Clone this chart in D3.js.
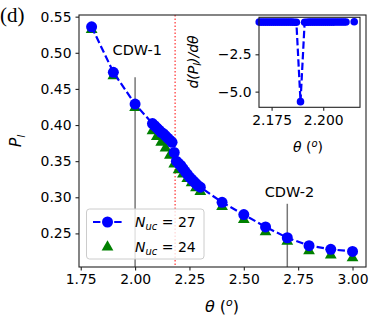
<!DOCTYPE html>
<html>
<head>
<meta charset="utf-8">
<script src="https://cdn.jsdelivr.net/npm/d3@7"></script>
<style>
  body { margin: 0; background: #fff; }
  text { font-family: "DejaVu Sans", sans-serif; fill: #000; }
</style>
</head>
<body>
<svg id="chart" width="381" height="328"></svg>
<script>
// main panel: N_uc = 27 (circles, dashed line)
const theta27 = [1.8, 1.9, 2.0, 2.08, 2.09, 2.10, 2.11, 2.12, 2.13, 2.14, 2.15, 2.16, 2.17, 2.18,
  2.19, 2.20, 2.21, 2.22, 2.23, 2.24, 2.25, 2.26, 2.27, 2.28, 2.29, 2.30,
  2.4, 2.5, 2.6, 2.7, 2.8, 2.9, 3.0];
const pl27 = [0.536, 0.473, 0.429, 0.402, 0.399, 0.396, 0.393, 0.390, 0.388, 0.385, 0.382, 0.379, 0.376, 0.362,
  0.350, 0.347, 0.344, 0.340, 0.336, 0.332, 0.328, 0.325, 0.322, 0.319, 0.316, 0.314,
  0.293, 0.276, 0.259, 0.244, 0.233, 0.228, 0.225];

// N_uc = 24 (triangles)
const theta24 = [1.8, 1.9, 2.0, 2.08, 2.10, 2.12, 2.14, 2.16, 2.18, 2.20, 2.22, 2.24, 2.26, 2.28, 2.30,
  2.4, 2.5, 2.6, 2.7, 2.8, 2.9, 3.0];
const pl24 = [0.532, 0.468, 0.424, 0.392, 0.384, 0.376, 0.368, 0.358, 0.346, 0.338, 0.332, 0.326, 0.320, 0.313, 0.308,
  0.287, 0.269, 0.252, 0.239, 0.226, 0.220, 0.216];

// inset: derivative d<P_l>/dtheta
const thetaD = [2.169, 2.170, 2.171, 2.172, 2.173, 2.174, 2.175, 2.176, 2.177, 2.178, 2.179,
  2.180, 2.181, 2.182, 2.183, 2.184, 2.185, 2.186, 2.187,
  2.189,
  2.191, 2.192, 2.193, 2.194, 2.195, 2.196, 2.197, 2.198, 2.199, 2.200, 2.201,
  2.202, 2.203, 2.204, 2.205, 2.206, 2.207, 2.208, 2.209, 2.210, 2.211,
  2.215];
const dpl = [-0.34, -0.34, -0.34, -0.34, -0.34, -0.34, -0.34, -0.34, -0.34, -0.34, -0.34,
  -0.34, -0.34, -0.34, -0.34, -0.34, -0.34, -0.35, -0.35,
  -5.67,
  -0.35, -0.35, -0.34, -0.34, -0.34, -0.34, -0.34, -0.34, -0.34, -0.34, -0.34,
  -0.34, -0.34, -0.34, -0.34, -0.33, -0.33, -0.33, -0.33, -0.33, -0.33,
  -0.32];

const xTicks = [1.75, 2.0, 2.25, 2.5, 2.75, 3.0];
const yTicks = [0.25, 0.30, 0.35, 0.40, 0.45, 0.50, 0.55];
const insetXTicks = [2.175, 2.2];
const insetYTicks = [-2.5, -5.0];
const cdwLines = [{ x: 2.0, top: 0.466, label: "CDW-1", lx: 2.01, ly: 0.502 }, { x: 2.7, top: 0.291, label: "CDW-2", lx: 2.71, ly: 0.306 }];
const transitionTheta = 2.184;

const svg = d3.select("#chart");
const fmt2 = d => d3.format(".2f")(d);
const minus = s => s.replace("-", "\u2212");

// main axes
const x = d3.scaleLinear().domain([1.742, 3.062]).range([79, 366]);
const y = d3.scaleLinear().domain([0.2035, 0.5523]).range([267, 15]);

const main = svg.append("g");

// red dotted transition line
main.append("line")
  .attr("x1", x(transitionTheta)).attr("x2", x(transitionTheta))
  .attr("y1", y.range()[1]).attr("y2", y.range()[0])
  .attr("stroke", "#ff3030").attr("stroke-width", 1.2)
  .attr("stroke-dasharray", "1.5,2");

// CDW lines + labels
cdwLines.forEach(c => {
  main.append("line")
    .attr("x1", x(c.x)).attr("x2", x(c.x))
    .attr("y1", y(c.top)).attr("y2", y.range()[0])
    .attr("stroke", "#777").attr("stroke-width", 1.5);
  main.append("text")
    .attr("x", x(c.lx)).attr("y", y(c.ly))
    .attr("text-anchor", "middle").attr("dominant-baseline", "middle")
    .style("font-size", "14.5px")
    .text(c.label);
});

// triangles
const tri = d3.symbol().type(d3.symbolTriangle).size(60);
main.selectAll(".tri").data(theta24).enter().append("path")
  .attr("d", tri)
  .attr("transform", (d, i) => `translate(${x(d)},${y(pl24[i])})`)
  .attr("fill", "#008000");

// dashed line + circles
const line = d3.line().x(d => x(d[0])).y(d => y(d[1]));
const pts27 = theta27.map((d, i) => [d, pl27[i]]);
main.append("path").datum(pts27)
  .attr("d", line).attr("fill", "none")
  .attr("stroke", "#0000ff").attr("stroke-width", 2.2)
  .attr("stroke-dasharray", "7.4,3.2");
main.selectAll(".dot").data(pts27).enter().append("circle")
  .attr("cx", d => x(d[0])).attr("cy", d => y(d[1]))
  .attr("r", 5.5).attr("fill", "#0000ff");

// axes frame
main.append("rect")
  .attr("x", 79).attr("y", 15).attr("width", 287).attr("height", 252)
  .attr("fill", "none").attr("stroke", "#222").attr("stroke-width", 1.1);

const xAxis = svg.append("g").attr("transform", "translate(0,267)")
  .call(d3.axisBottom(x).tickValues(xTicks).tickFormat(fmt2).tickSize(3.5).tickPadding(4));
const yAxis = svg.append("g").attr("transform", "translate(79,0)")
  .call(d3.axisLeft(y).tickValues(yTicks).tickFormat(fmt2).tickSize(3.5).tickPadding(4));
[xAxis, yAxis].forEach(a => {
  a.select(".domain").remove();
  a.selectAll("line").attr("stroke", "#222").attr("stroke-width", 1.1);
  a.selectAll("text").style("font-size", "13.9px").style("font-family", "DejaVu Sans");
});

// axis labels
const xl = svg.append("text").attr("x", 222).attr("y", 312).attr("text-anchor", "middle").style("font-size", "16px");
xl.append("tspan").style("font-style", "italic").text("\u03b8");
xl.append("tspan").text(" (");
xl.append("tspan").style("font-style", "italic").style("font-size", "11px").attr("dy", -6).text("o");
xl.append("tspan").attr("dy", 6).text(")");

const yl = svg.append("text").attr("transform", "translate(21,141) rotate(-90)").attr("text-anchor", "middle").style("font-size", "16px");
yl.append("tspan").style("font-style", "italic").text("P");
yl.append("tspan").style("font-style", "italic").style("font-size", "11px").attr("dy", 4).text("l");

svg.append("text").attr("x", 0).attr("y", 22)
  .style("font-family", "Liberation Serif, serif").style("font-size", "21px")
  .text("(d)");

// legend
const lg = svg.append("g");
lg.append("rect").attr("x", 86.5).attr("y", 209).attr("width", 117.5).attr("height", 50)
  .attr("rx", 3).attr("fill", "#fff").attr("fill-opacity", 0.8)
  .attr("stroke", "#ccc").attr("stroke-width", 1);
lg.append("line").attr("x1", 93).attr("x2", 122).attr("y1", 222).attr("y2", 222)
  .attr("stroke", "#0000ff").attr("stroke-width", 2.2).attr("stroke-dasharray", "7.4,3.2");
lg.append("circle").attr("cx", 107.5).attr("cy", 222).attr("r", 5.5).attr("fill", "#0000ff");
lg.append("path").attr("d", tri).attr("transform", "translate(107.5,247)").attr("fill", "#008000");
[["27", 227], ["24", 252]].forEach(([n, yy]) => {
  const t = lg.append("text").attr("x", 135).attr("y", yy).style("font-size", "14px");
  t.append("tspan").style("font-style", "italic").text("N");
  t.append("tspan").style("font-style", "italic").style("font-size", "10px").attr("dy", 3).text("uc");
  t.append("tspan").attr("dy", -3).text(" = " + n);
});

// inset
const xi = d3.scaleLinear().domain([2.1689, 2.2178]).range([259, 360]);
const yi = d3.scaleLinear().domain([-6.05, -0.02]).range([107.3, 17.3]);
const inset = svg.append("g");
inset.append("rect").attr("x", 259).attr("y", 17.3).attr("width", 101).attr("height", 90)
  .attr("fill", "#fff");
const ptsD = thetaD.map((d, i) => [d, dpl[i]]);
inset.append("path").datum(ptsD)
  .attr("d", d3.line().x(d => xi(d[0])).y(d => yi(d[1])))
  .attr("fill", "none").attr("stroke", "#0000ff").attr("stroke-width", 2.2)
  .attr("stroke-dasharray", "7.4,3.2");
inset.selectAll(".dd").data(ptsD).enter().append("circle")
  .attr("cx", d => xi(d[0])).attr("cy", d => yi(d[1]))
  .attr("r", 3.8).attr("fill", "#0000ff");
inset.append("rect").attr("x", 259).attr("y", 17.3).attr("width", 101).attr("height", 90)
  .attr("fill", "none").attr("stroke", "#222").attr("stroke-width", 1.1);

const xiAxis = svg.append("g").attr("transform", "translate(0,107.3)")
  .call(d3.axisBottom(xi).tickValues(insetXTicks).tickFormat(d3.format(".3f")).tickSize(3.5).tickPadding(4));
const yiAxis = svg.append("g").attr("transform", "translate(259,0)")
  .call(d3.axisLeft(yi).tickValues(insetYTicks).tickFormat(d => minus(d3.format(".1f")(d))).tickSize(3.5).tickPadding(4));
[xiAxis, yiAxis].forEach(a => {
  a.select(".domain").remove();
  a.selectAll("line").attr("stroke", "#222").attr("stroke-width", 1.1);
  a.selectAll("text").style("font-size", "13.9px").style("font-family", "DejaVu Sans");
});

const xil = svg.append("text").attr("x", 308).attr("y", 152).attr("text-anchor", "middle").style("font-size", "14px");
xil.append("tspan").style("font-style", "italic").text("\u03b8");
xil.append("tspan").text(" (");
xil.append("tspan").style("font-style", "italic").style("font-size", "10px").attr("dy", -5).text("o");
xil.append("tspan").attr("dy", 5).text(")");

const yil = svg.append("text").attr("transform", "translate(198,62) rotate(-90)").attr("text-anchor", "middle").style("font-size", "14px").style("font-style", "italic");
yil.append("tspan").text("d(P");
yil.append("tspan").style("font-size", "10px").attr("dy", 3).text("l");
yil.append("tspan").attr("dy", -3).text(")/d\u03b8");
</script>
</body>
</html>
